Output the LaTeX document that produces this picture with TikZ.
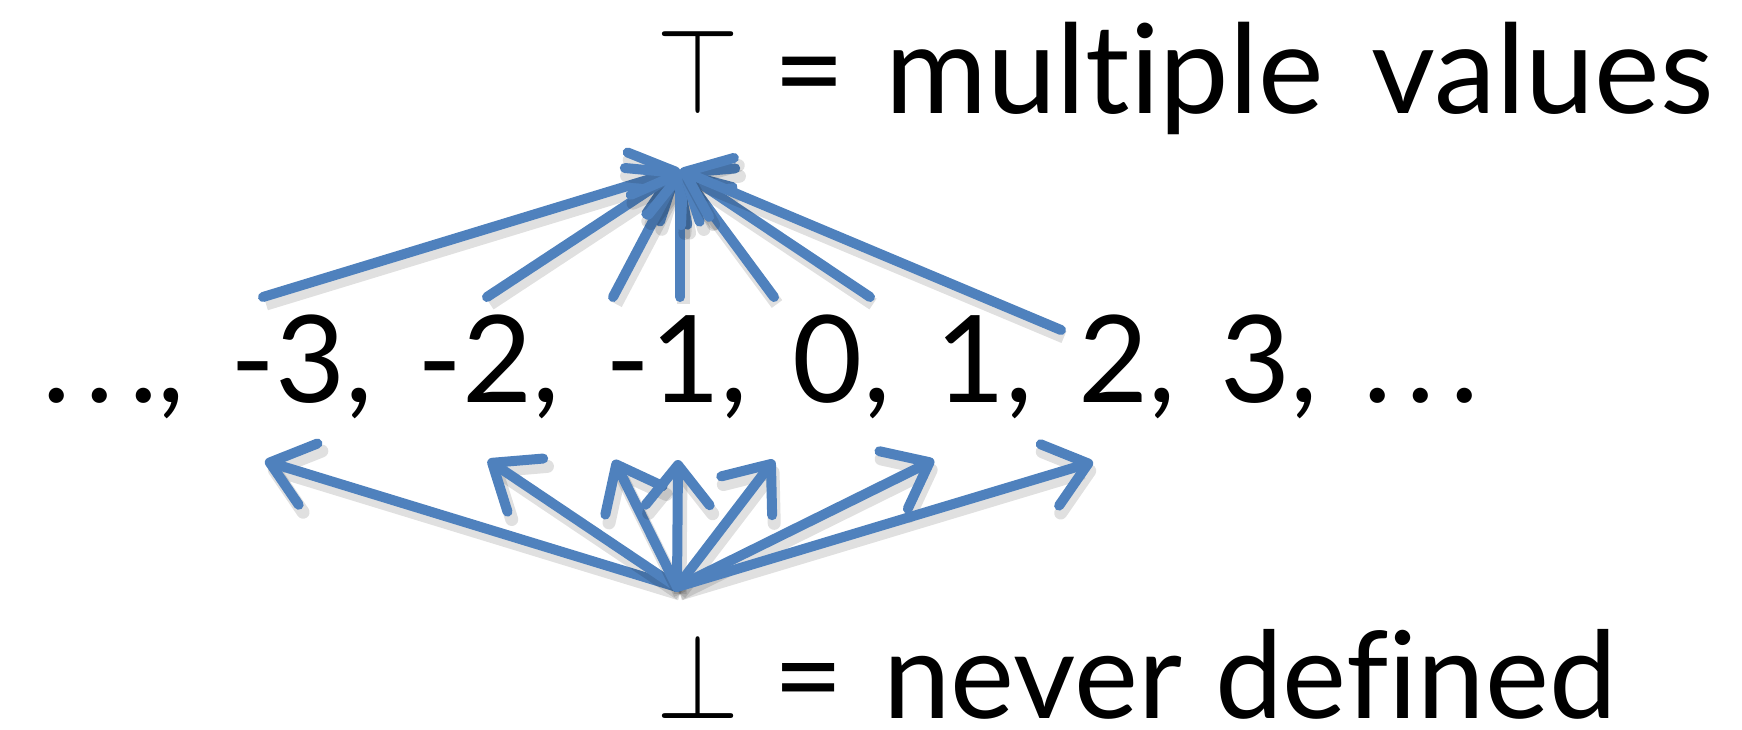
\documentclass[tikz,border=0pt]{standalone}
\usepackage{graphicx}
\usepackage{fontspec}
\setmainfont{Lato}[WordSpace=1.5, Ligatures=NoCommon]
\newfontfamily\numfont{Lato}[WordSpace=1.45]
\newcommand{\wdots}{.\kern15pt.\kern15pt.}
\newcommand{\bigsym}[1]{\resizebox{83pt}{85pt}{$#1$}}
\usepackage{tikz}
\usetikzlibrary{arrows.meta}
\definecolor{ordblue}{HTML}{4F81BD}
\tikzset{
  lbl/.style={font=\fontsize{124}{140}\selectfont, inner sep=0pt, anchor=base west},
  nums/.style={font=\numfont\fontsize{121}{140}\selectfont, inner sep=0pt, anchor=base west},
  ordarrow/.style={
    -{Straight Barb[length=40pt,width=64pt,round]},
    line width=10pt, line cap=round, draw=ordblue,
    preaction={draw=black, opacity=0.12, line width=13pt,
      transform canvas={shift={(3pt,-7pt)}}}},
}
\begin{document}
\begin{tikzpicture}[x=1pt,y=-1pt]
  \useasboundingbox (0,0) rectangle (1742,729);
  \node[lbl]  (topval) at (656,113) {\bigsym{\top}\kern34pt=\kern40pt multiple values};
  \node[nums] (ints)   at (42,402)  {\wdots, -3, -2, -1, 0, 1, 2, 3, \wdots};
  \node[lbl, font=\fontsize{121}{140}\selectfont]
              (botval) at (656,718) {\bigsym{\bot}\kern34pt=\kern40pt never\hspace{33pt}defined};
  \coordinate (topapex) at (680,170);
  \coordinate (botapex) at (677,587);
  \coordinate (um3) at (263,297);
  \coordinate (um2) at (487,297);
  \coordinate (um1) at (613,297);
  \coordinate (u0)  at (680,297);
  \coordinate (u1)  at (774,297);
  \coordinate (u2)  at (870,297);
  \coordinate (u3)  at (1061,330);
  \coordinate (dm3) at (265,461);
  \coordinate (dm2) at (488,460);
  \coordinate (dm1) at (614,460);
  \coordinate (d0)  at (678,460);
  \coordinate (d1)  at (774,460);
  \coordinate (d2)  at (934,460);
  \coordinate (d3)  at (1093,462);
  \draw[ordarrow] (um3) -- (topapex);
  \draw[ordarrow] (um2) -- (topapex);
  \draw[ordarrow] (um1) -- (topapex);
  \draw[ordarrow] (u0)  -- (topapex);
  \draw[ordarrow] (u1)  -- (topapex);
  \draw[ordarrow] (u2)  -- (topapex);
  \draw[ordarrow] (u3)  -- (topapex);
  \draw[ordarrow] (botapex) -- (dm3);
  \draw[ordarrow] (botapex) -- (dm2);
  \draw[ordarrow] (botapex) -- (dm1);
  \draw[ordarrow] (botapex) -- (d0);
  \draw[ordarrow] (botapex) -- (d1);
  \draw[ordarrow] (botapex) -- (d2);
  \draw[ordarrow] (botapex) -- (d3);
\end{tikzpicture}
\end{document}
